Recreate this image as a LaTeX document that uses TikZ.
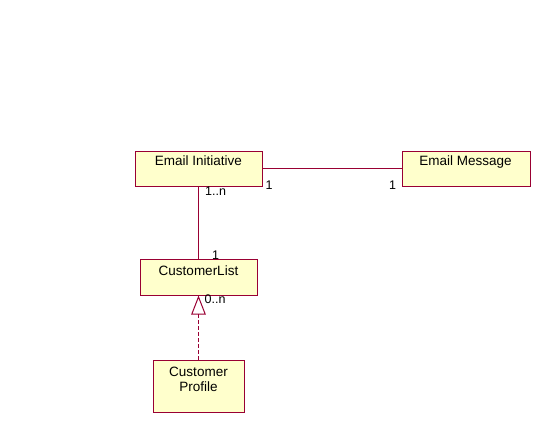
\documentclass[tikz,border=0pt]{standalone}
\usepackage{fontspec}
\setmainfont{Liberation Sans}
\usetikzlibrary{arrows.meta}
\definecolor{umlline}{HTML}{990033}
\definecolor{umlfill}{HTML}{FFFFCC}

\begin{document}
\begin{tikzpicture}[x=1pt,y=-1pt,
  classbox/.style={draw=umlline,fill=umlfill,line width=1pt,inner sep=0pt},
  classname/.style={draw=none,inner sep=0pt,anchor=base,font=\fontsize{13.5}{15}\selectfont,align=center},
  mult/.style={draw=none,inner sep=0pt,anchor=base west,font=\fontsize{12.5}{14}\selectfont},
  assoc/.style={draw=umlline,line width=1pt},
  realize/.style={draw=umlline,line width=1pt,dash pattern=on 4pt off 2pt,
    -{Triangle[open,length=19pt,width=14.5pt,line width=1pt]}}]

\useasboundingbox (0,0) rectangle (557,447);

\node [classbox,minimum width=127pt,minimum height=35pt] (initiative) at (198.5,168.5) {};
\node [classbox,minimum width=128pt,minimum height=35pt] (message) at (466,168.5) {};
\node [classbox,minimum width=117pt,minimum height=36pt] (customerlist) at (198.5,277) {};
\node [classbox,minimum width=91pt,minimum height=52pt] (profile) at (198.5,386) {};

\node [classname] (initiativename) at (198.5,165.7) {Email Initiative};
\node [classname] (messagename) at (465.5,165.7) {Email Message};
\node [classname] (customerlistname) at (198.5,275) {CustomerList};
\node [classname] (profilename) at (198.5,391.7) {Customer\\Profile};

\draw [assoc] (initiative.east) -- (message.west);
\draw [assoc] (initiative.south) -- (customerlist.north);
\draw [realize] (profile.north) -- (customerlist.south);

% multiplicities
\node [mult] (initiativeend) at (265.5,189) {1};
\node [mult] (messageend) at (389,189) {1};
\node [mult] (initiativelist) at (205,195) {1..n};
\node [mult] (listinitiative) at (212,259) {1};
\node [mult] (listprofile) at (204.5,303) {0..n};

\end{tikzpicture}
\end{document}
